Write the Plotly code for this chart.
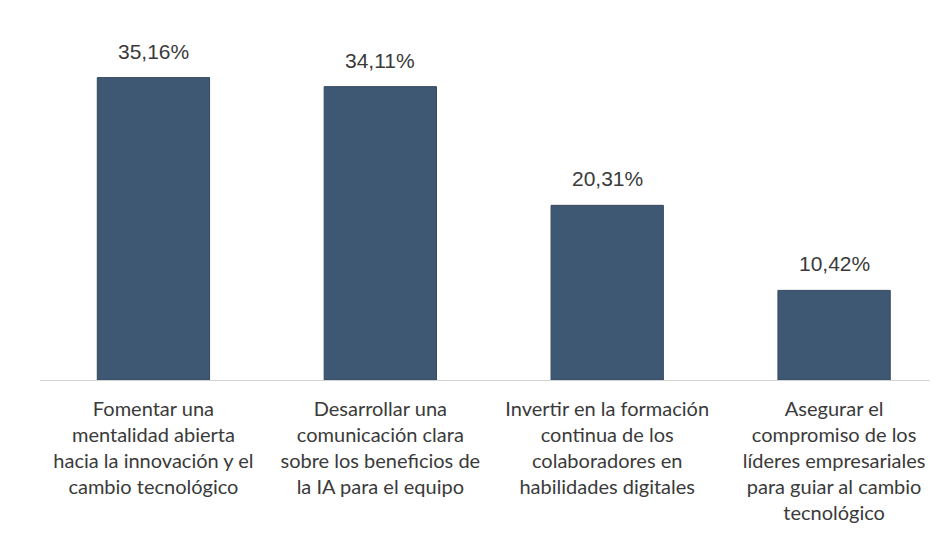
import plotly.graph_objects as go

categories = [
    "Fomentar una<br>mentalidad abierta<br>hacia la innovación y el<br>cambio tecnológico",
    "Desarrollar una<br>comunicación clara<br>sobre los beneficios de<br>la IA para el equipo",
    "Invertir en la formación<br>continua de los<br>colaboradores en<br>habilidades digitales",
    "Asegurar el<br>compromiso de los<br>líderes empresariales<br>para guiar al cambio<br>tecnológico",
]
values = [35.16, 34.11, 20.31, 10.42]
value_labels = ["35,16%", "34,11%", "20,31%", "10,42%"]

x_idx = list(range(len(categories)))

fig = go.Figure()
fig.add_trace(go.Bar(
    x=x_idx, y=values, width=0.495,
    marker=dict(color="#3e5873", line=dict(color="#34495f", width=1)),
    hoverinfo="skip",
))
for i, v, t in zip(x_idx, values, value_labels):
    fig.add_annotation(x=i, y=v, text=t, showarrow=False, yanchor="bottom",
                       yshift=13, font=dict(family="Liberation Sans", size=21, color="#3a3a3a"))

fig.update_layout(
    width=938, height=547,
    margin=dict(l=32, r=8, t=28, b=175),
    paper_bgcolor="white", plot_bgcolor="white",
    showlegend=False,
    xaxis=dict(
        range=[-0.5, 3.458], tickmode="array", tickvals=x_idx, ticktext=categories,
        showline=True, linecolor="#d4d4d4", linewidth=1, showgrid=False,
        ticks="", tickfont=dict(family="Lato", size=20, color="#3a3a3a"),
        tickangle=0, zeroline=False, ticklabelstandoff=11,
    ),
    yaxis=dict(range=[0, 40], visible=False),
)
fig.write_html("out.html")
